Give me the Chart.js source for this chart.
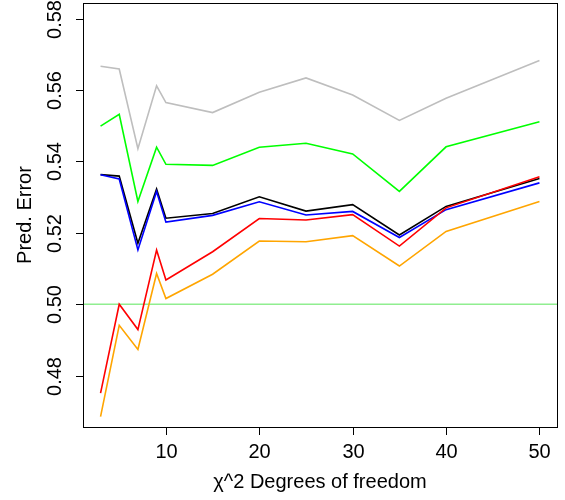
<!DOCTYPE html>
<html>
<head>
<meta charset="utf-8">
<script src="https://cdn.jsdelivr.net/npm/chart.js@4"></script>
<style>
  html, body { margin: 0; padding: 0; background: #fff; }
  #wrap { width: 565px; height: 500px; }
</style>
</head>
<body>
<div id="wrap"><canvas id="chart" width="565" height="500"></canvas></div>
<script>
const dof = [3, 5, 7, 9, 10, 15, 20, 25, 30, 35, 40, 50];

const grayErr   = [0.5667, 0.5659, 0.5436, 0.5612, 0.5565, 0.5537, 0.5594, 0.5634, 0.5586, 0.5515, 0.5577, 0.5683];
const greenErr  = [0.5499, 0.5532, 0.5288, 0.5440, 0.5392, 0.5389, 0.5440, 0.5451, 0.5421, 0.5316, 0.5441, 0.5511];
const blackErr  = [0.5363, 0.5359, 0.5171, 0.5323, 0.5241, 0.5254, 0.5301, 0.5261, 0.5279, 0.5194, 0.5274, 0.5352];
const blueErr   = [0.5363, 0.5351, 0.5152, 0.5316, 0.5230, 0.5249, 0.5287, 0.5250, 0.5260, 0.5187, 0.5265, 0.5340];
const redErr    = [0.4751, 0.5000, 0.4929, 0.5152, 0.5068, 0.5147, 0.5240, 0.5236, 0.5251, 0.5163, 0.5270, 0.5357];
const orangeErr = [0.4685, 0.4941, 0.4873, 0.5086, 0.5016, 0.5084, 0.5177, 0.5175, 0.5192, 0.5107, 0.5204, 0.5288];

const xTicks = [10, 20, 30, 40, 50];
const yTicks = [0.48, 0.50, 0.52, 0.54, 0.56, 0.58];
const refLine = 0.50;

const FONT = '20px "Liberation Sans", Arial, sans-serif';

function series(vals, color) {
  return {
    data: dof.map((d, i) => ({ x: d, y: vals[i] })),
    borderColor: color,
    borderWidth: 1.6,
    pointRadius: 0,
    fill: false,
    tension: 0,
  };
}

// R style box, ticks, labels and abline
const baseAxes = {
  id: "baseAxes",
  beforeDatasetsDraw(chart) {
    const { ctx, chartArea: a, scales: { y } } = chart;
    const yy = y.getPixelForValue(refLine);
    ctx.save();
    ctx.strokeStyle = "#90EE90";
    ctx.lineWidth = 1.6;
    ctx.beginPath();
    ctx.moveTo(a.left, yy);
    ctx.lineTo(a.right, yy);
    ctx.stroke();
    ctx.restore();
  },
  afterDraw(chart) {
    const { ctx, chartArea: a, scales: { x, y } } = chart;
    ctx.save();
    ctx.strokeStyle = "#000";
    ctx.lineWidth = 1;
    ctx.strokeRect(a.left + 0.5, a.top + 0.5, a.right - a.left, a.bottom - a.top);

    ctx.fillStyle = "#000";
    ctx.font = FONT;

    // x axis
    ctx.textAlign = "center";
    ctx.textBaseline = "middle";
    xTicks.forEach(v => {
      const px = Math.round(x.getPixelForValue(v)) + 0.5;
      ctx.beginPath();
      ctx.moveTo(px, a.bottom);
      ctx.lineTo(px, a.bottom + 8);
      ctx.stroke();
      ctx.fillText(String(v), px, 452);
    });
    ctx.fillText("\u03c7^2 Degrees of freedom", (a.left + a.right) / 2, 482);

    // y axis
    yTicks.forEach(v => {
      const py = Math.round(y.getPixelForValue(v)) + 0.5;
      ctx.beginPath();
      ctx.moveTo(a.left, py);
      ctx.lineTo(a.left - 7, py);
      ctx.stroke();
      ctx.save();
      ctx.translate(55, py);
      ctx.rotate(-Math.PI / 2);
      ctx.fillText(v.toFixed(2), 0, 0);
      ctx.restore();
    });
    ctx.save();
    ctx.translate(25, (a.top + a.bottom) / 2);
    ctx.rotate(-Math.PI / 2);
    ctx.fillText("Pred. Error", 0, 0);
    ctx.restore();
    ctx.restore();
  }
};

new Chart(document.getElementById("chart"), {
  type: "line",
  data: {
    datasets: [
      series(orangeErr, "#FFA500"),
      series(redErr, "#FF0000"),
      series(blueErr, "#0000FF"),
      series(blackErr, "#000000"),
      series(greenErr, "#00FF00"),
      series(grayErr, "#BEBEBE"),
    ],
  },
  options: {
    responsive: false,
    animation: false,
    layout: { padding: { left: 83, right: 8, top: 3, bottom: 73 } },
    scales: {
      x: { type: "linear", min: 1.12, max: 51.88, display: false },
      y: { type: "linear", min: 0.4656, max: 0.5844, display: false },
    },
    plugins: {
      legend: { display: false },
      title: { display: false },
      tooltip: { enabled: false },
    },
  },
  plugins: [baseAxes],
});
</script>
</body>
</html>
